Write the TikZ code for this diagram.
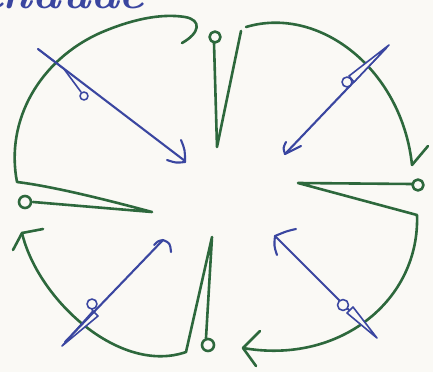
\documentclass[tikz,border=0pt]{standalone}
\usetikzlibrary{calc}
\definecolor{penGreen}{RGB}{45,104,60}
\definecolor{penBlue}{RGB}{58,70,160}
\definecolor{paper}{RGB}{250,249,245}
\tikzset{
  gstroke/.style={draw=penGreen, line width=2.6pt, line cap=round, line join=round},
  bstroke/.style={draw=penBlue, line width=2.1pt, line cap=round, line join=round},
  bthin/.style={draw=penBlue, line width=1.6pt, line cap=round, line join=round},
  sliver/.style={bthin, fill=paper},
}
\begin{document}
\begin{tikzpicture}[x=1pt, y=-1pt]
\useasboundingbox (0,0) rectangle (433,372);
\fill[paper] (0,0) rectangle (433,372);
\begin{scope}
\clip (0,0) rectangle (433,372);
% clipped handwritten word at top
\node[anchor=base west, inner sep=0pt, text=penBlue, font=\bfseries\itshape\fontsize{48}{48}\selectfont] (word) at (-22,9) {chaude};

% ---------- green: left pin + upper-left arc with hook ----------
\draw[gstroke] (33,202) -- (152,212) .. controls (100,198) and (50,186) .. (17,182)
  .. controls (5,120) and (40,60) .. (100,33)
  .. controls (130,20) and (160,13) .. (185,17)
  .. controls (202,20) and (200,33) .. (182,43);
\draw[gstroke] (25,202) circle[radius=6pt];

% ---------- green: top pin + upper-right arc ----------
\draw[gstroke] (215,37) circle[radius=5.5pt];
\draw[gstroke] (214,43) -- (217,147) -- (241,31);
\draw[gstroke] (246,27) .. controls (320,5) and (402,70) .. (412,165);
\draw[gstroke] (412,165) -- (428,146);

% ---------- green: right pin + lower-right arc ----------
\draw[gstroke] (418,185) circle[radius=5.5pt];
\draw[gstroke] (412,184) -- (298,183) -- (417,215)
  .. controls (420,300) and (340,365) .. (243,348);
\draw[gstroke] (243,348) -- (256,366);
\draw[gstroke] (243,348) -- (260,331);

% ---------- green: bottom pin + lower-left arc ----------
\draw[gstroke] (208,345) circle[radius=6pt];
\draw[gstroke] (206,338) -- (212,237) -- (186,352)
  .. controls (120,375) and (38,300) .. (22,233);
\draw[gstroke] (22,233) -- (13,250);
\draw[gstroke] (22,233) -- (43,229);

% ---------- blue: top-left ----------
\draw[bthin] (38,49) -- (64,69) -- (81,92);
\draw[bstroke] (38,49) -- (185,161);
\draw[bstroke] (167,160) .. controls (176,163) .. (185,162);
\draw[bstroke] (181,140) .. controls (185,150) .. (185,162);
\draw[bthin] (84,96) circle[radius=4pt];

% ---------- blue: top-right ----------
\draw[bstroke] (386,48) -- (285,154);
\draw[bstroke] (285,154) .. controls (283,148) .. (286,142);
\draw[bstroke] (285,154) .. controls (293,150) .. (301,146);
\draw[sliver] (389,45) -- (349,76) -- (354,82) -- cycle;
\draw[bthin, fill=paper] (347,82) circle[radius=5pt];

% ---------- blue: bottom-left ----------
\draw[sliver] (62,346) -- (93,311) -- (98,316) -- cycle;
\draw[bstroke] (65,342) -- (163,240);
\draw[bstroke] (163,240) .. controls (158,241) .. (154,245);
\draw[bstroke] (163,240) .. controls (170,243) .. (171,252);
\draw[bthin] (92,309) -- (93,312);
\draw[bthin, fill=paper] (92,304) circle[radius=5pt];

% ---------- blue: bottom-right ----------
\draw[bstroke] (373,334) -- (275,236);
\draw[bstroke] (275,236) .. controls (274,246) .. (277,255);
\draw[bstroke] (275,236) .. controls (287,231) .. (296,229);
\draw[sliver] (377,338) -- (347,313) -- (353,307) -- cycle;
\draw[bthin, fill=paper] (343,305) circle[radius=5.5pt];
\end{scope}
\end{tikzpicture}
\end{document}
